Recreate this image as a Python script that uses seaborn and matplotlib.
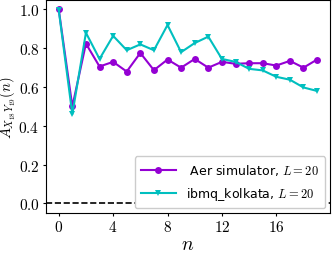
import numpy as np
import pandas as pd
import matplotlib
matplotlib.use("Agg")
import matplotlib.pyplot as plt
import matplotlib.ticker as mticker
import seaborn as sns

n_vals = list(range(20))
aer = [1.0, 0.50, 0.824, 0.706, 0.73, 0.68, 0.776, 0.687, 0.742, 0.70,
       0.745, 0.70, 0.73, 0.72, 0.723, 0.723, 0.711, 0.735, 0.70, 0.742]
kolkata = [0.997, 0.46, 0.88, 0.745, 0.864, 0.79, 0.82, 0.79, 0.92, 0.78,
           0.827, 0.86, 0.745, 0.73, 0.694, 0.686, 0.653, 0.638, 0.598, 0.58]
labels = [" Aer simulator, $L=20$", "ibmq_kolkata, $L=20$"]
x_ticks = [0, 4, 8, 12, 16]
y_ticks = [0.0, 0.2, 0.4, 0.6, 0.8, 1.0]

plt.rcParams['mathtext.fontset'] = 'cm'
plt.rcParams['font.family'] = ['DejaVu Sans']

df = pd.DataFrame({
    "n": n_vals * 2,
    "A": aer + kolkata,
    "series": [labels[0]] * 20 + [labels[1]] * 20,
})

fig = plt.figure(figsize=(3.32, 2.55), dpi=100)
ax = fig.add_axes([0.138, 0.16, 0.856, 0.837])
sns.lineplot(data=df, x="n", y="A", hue="series", style="series",
             markers=["o", "v"], dashes=False, palette=["#9400D3", "#00BFBF"],
             linewidth=1.5, markersize=5, markeredgewidth=0, ax=ax)
ax.axhline(0, color="black", linestyle="--", linewidth=1.2)

ax.set_xticks(x_ticks)
ax.set_yticks(y_ticks)
ax.xaxis.set_major_formatter(mticker.FuncFormatter(lambda v, p: f"${int(v)}$"))
ax.yaxis.set_major_formatter(mticker.FuncFormatter(lambda v, p: f"${v:.1f}$"))
ax.tick_params(labelsize=11, length=2.5, pad=2)
ax.set_xlabel("$n$", fontsize=14, labelpad=0)
ax.set_ylabel("$A_{X_{18}Y_{19}}(n)$", fontsize=10.5, labelpad=0)
ax.yaxis.set_label_coords(-0.097, 0.5)
leg = ax.legend(loc="lower right", fontsize=9, title=None, framealpha=1,
                handlelength=2.8, borderpad=0.5, labelspacing=0.6,
                borderaxespad=0.4)

fig.savefig("out.png", dpi=100)
